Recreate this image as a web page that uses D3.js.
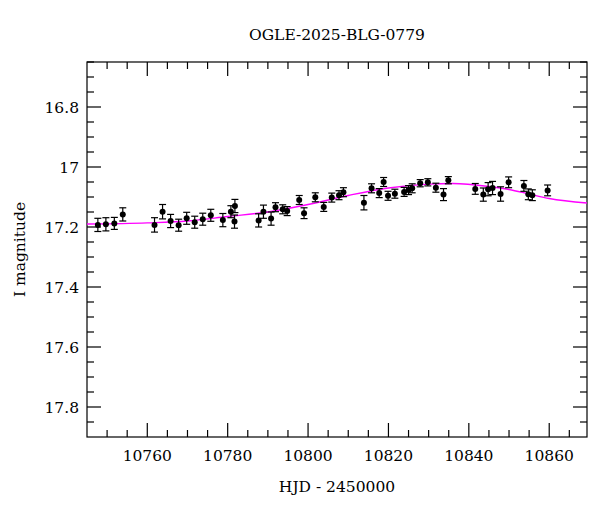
<!DOCTYPE html>
<html><head><meta charset="utf-8">
<script src="https://cdn.jsdelivr.net/npm/d3@7"></script>
<style>body{margin:0;background:#fff}text{font-family:"DejaVu Serif",serif;font-size:15.5px}</style>
</head><body><div id="chart"></div>
<script>
// observed photometry
const hjd = [10747.7,10749.7,10751.8,10753.9,10761.8,10763.8,10765.8,10767.8,10769.8,10771.8,10773.8,10775.8,10778.8,10780.8,10781.8,10781.7,10787.7,10788.9,10790.8,10791.9,10793.7,10794.8,10797.8,10799.0,10801.8,10803.9,10805.9,10807.7,10808.8,10813.9,10815.8,10817.7,10818.8,10819.9,10821.6,10823.9,10825.0,10825.9,10827.9,10829.8,10831.8,10833.7,10834.9,10841.6,10843.6,10844.8,10845.9,10847.9,10849.9,10853.7,10854.8,10855.8,10859.6];
const mag = [17.193,17.191,17.188,17.158,17.193,17.149,17.180,17.194,17.171,17.184,17.174,17.161,17.177,17.149,17.130,17.182,17.178,17.149,17.172,17.134,17.141,17.147,17.110,17.154,17.101,17.133,17.102,17.094,17.084,17.119,17.071,17.087,17.050,17.096,17.089,17.083,17.077,17.071,17.054,17.051,17.069,17.092,17.044,17.073,17.092,17.074,17.070,17.090,17.051,17.063,17.091,17.094,17.078];
const err = [0.022,0.022,0.02,0.022,0.024,0.024,0.022,0.02,0.02,0.02,0.02,0.02,0.022,0.02,0.022,0.022,0.022,0.022,0.022,0.015,0.015,0.015,0.015,0.018,0.015,0.015,0.015,0.015,0.015,0.024,0.015,0.015,0.015,0.015,0.015,0.015,0.015,0.015,0.012,0.012,0.015,0.02,0.012,0.018,0.022,0.022,0.022,0.024,0.018,0.018,0.018,0.018,0.018];
// model curve samples
const modelT = [10745,10760,10770,10780,10790,10800,10810,10820,10830,10836,10845,10850,10855,10860,10869.4];
const modelM = [17.19,17.186,17.18,17.165,17.15,17.125,17.095,17.07,17.057,17.055,17.065,17.075,17.09,17.105,17.12];

const W = 600, H = 512, m = {top: 62, right: 13, bottom: 75, left: 87};
const svg = d3.select("#chart").append("svg").attr("width", W).attr("height", H);
const x = d3.scaleLinear().domain([10745, 10869.4]).range([m.left, W - m.right]);
const y = d3.scaleLinear().domain([16.65, 17.9]).range([m.top, H - m.bottom]);
const x0 = m.left, x1 = W - m.right, y0 = m.top, y1 = H - m.bottom;

svg.append("rect").attr("x", x0).attr("y", y0).attr("width", x1 - x0).attr("height", y1 - y0)
  .attr("fill", "none").attr("stroke", "#000").attr("stroke-width", 1.2);

const g = svg.append("g").attr("stroke", "#000").attr("stroke-width", 1.2);
// x ticks (bottom & top)
d3.range(10750, 10870, 5).forEach(t => {
  const len = t % 20 === 0 ? 14 : 7;
  g.append("line").attr("x1", x(t)).attr("x2", x(t)).attr("y1", y1).attr("y2", y1 - len);
  g.append("line").attr("x1", x(t)).attr("x2", x(t)).attr("y1", y0).attr("y2", y0 + len);
});
// y ticks (left & right)
d3.range(16.65, 17.9, 0.05).forEach(v => {
  const major = Math.abs(Math.round(v * 5) - v * 5) < 1e-6;
  const len = major ? 14 : 7;
  g.append("line").attr("y1", y(v)).attr("y2", y(v)).attr("x1", x0).attr("x2", x0 + len);
  g.append("line").attr("y1", y(v)).attr("y2", y(v)).attr("x1", x1).attr("x2", x1 - len);
});

const xt = [10760, 10780, 10800, 10820, 10840, 10860];
const yt = [16.8, 17, 17.2, 17.4, 17.6, 17.8];
svg.selectAll(".xl").data(xt).enter().append("text").attr("x", d => x(d)).attr("y", y1 + 24)
  .attr("text-anchor", "middle").text(d => d);
svg.selectAll(".yl").data(yt).enter().append("text").attr("x", x0 - 8).attr("y", d => y(d) + 6)
  .attr("text-anchor", "end").text(d => d);

svg.append("text").attr("x", (x0 + x1) / 2).attr("y", y1 + 55).attr("text-anchor", "middle")
  .text("HJD - 2450000");
svg.append("text").attr("transform", `translate(25,${(y0 + y1) / 2}) rotate(-90)`)
  .attr("text-anchor", "middle").text("I magnitude");
svg.append("text").attr("x", (x0 + x1) / 2).attr("y", 40).attr("text-anchor", "middle")
  .text("OGLE-2025-BLG-0779");

// model
const line = d3.line().x(d => x(d[0])).y(d => y(d[1])).curve(d3.curveMonotoneX);
svg.append("path").datum(modelT.map((t, i) => [t, modelM[i]])).attr("d", line)
  .attr("fill", "none").attr("stroke", "#ff00ff").attr("stroke-width", 1.3);

// data points with error bars
const pts = svg.append("g").selectAll("g").data(hjd.map((t, i) => ({t, m: mag[i], e: err[i]})))
  .enter().append("g");
pts.append("line").attr("x1", d => x(d.t)).attr("x2", d => x(d.t))
  .attr("y1", d => y(d.m - d.e)).attr("y2", d => y(d.m + d.e)).attr("stroke", "#000").attr("stroke-width", 1.2);
["-", "+"].forEach(s => pts.append("line").attr("x1", d => x(d.t) - 3.5).attr("x2", d => x(d.t) + 3.5)
  .attr("y1", d => y(s === "-" ? d.m - d.e : d.m + d.e)).attr("y2", d => y(s === "-" ? d.m - d.e : d.m + d.e))
  .attr("stroke", "#000").attr("stroke-width", 1.2));
pts.append("circle").attr("cx", d => x(d.t)).attr("cy", d => y(d.m)).attr("r", 3).attr("fill", "#000");
</script></body></html>
